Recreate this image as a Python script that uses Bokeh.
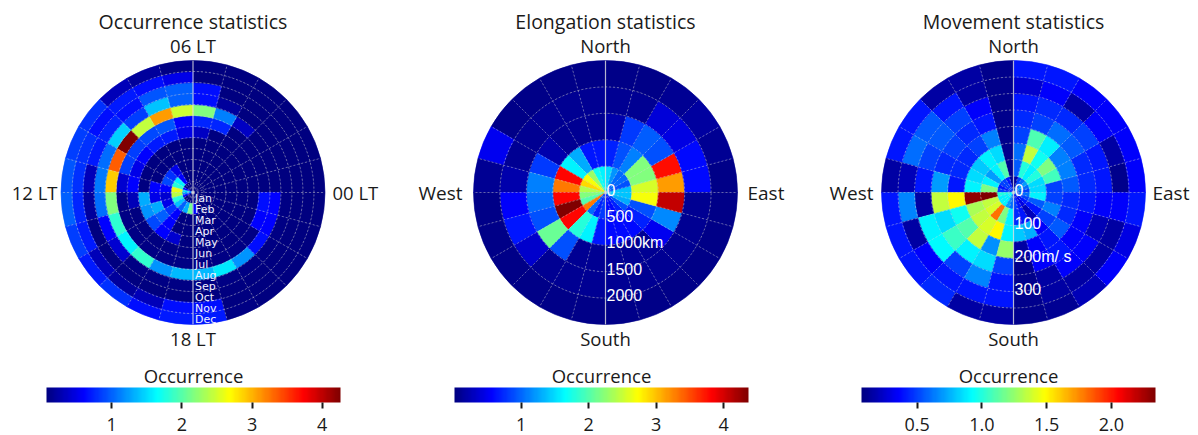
import numpy as np
from bokeh.plotting import figure
from bokeh.models import (Range1d, ColumnDataSource, LinearColorMapper, ColorBar,
                          FixedTicker, PrintfTickFormatter)
from bokeh.core.properties import value
from bokeh.embed import file_html
from bokeh.resources import INLINE

# ---------------- data ----------------
# Panel 1: occurrence by local time hour (0..23) for each month (inner Jan -> outer Dec)
month_labels = ["Jan", "Feb", "Mar", "Apr", "May", "Jun",
                "Jul", "Aug", "Sep", "Oct", "Nov", "Dec"]
occ_jan = [0, 0, 0, 0, 0, 0, 0, 0, 0, 0, 0.6, 1.5, 1.2, 0.6, 0, 0, 0, 0, 0, 0, 0, 0, 0, 0]
occ_feb = [0, 0, 0, 0, 0, 0, 0, 0, 0.6, 1.6, 1.8, 2.6, 2.4, 1.8, 1.4, 1.0, 1.3, 2.1, 0.6, 0, 0, 0, 0, 0]
occ_mar = [0, 0, 0, 0, 0, 0, 0, 0, 0.5, 0.8, 0.9, 0.6, 0.4, 0.5, 0.8, 0.6, 0, 0, 0, 0, 0, 0, 0, 0]
occ_apr = [0, 0, 0, 0, 0, 0, 0, 0, 0, 0, 0, 0.6, 0.5, 1.3, 1.0, 0.6, 0, 0, 0, 0, 0, 0, 0, 0]
occ_may = [0, 0, 0, 0, 0, 0, 0, 0, 0, 0, 0, 0, 1.3, 1.2, 0.9, 0.6, 0.4, 0, 0, 0, 0, 0, 0, 0]
occ_jun = [0, 0, 0, 0, 0, 0.35, 0.5, 0.7, 0.7, 0.6, 0.5, 0.6, 0.3, 0, 0, 0, 0, 0, 0, 0, 0, 0, 0, 0]
occ_jul = [0, 0, 0, 0, 0.75, 0.75, 0.6, 0.95, 0.9, 0.85, 0.85, 0.4, 0.1, 0.1, 0.1, 0.1, 0.1, 0.1, 0.1, 0.1, 0.1, 0.1, 0.6, 0.65]
occ_aug = [0, 0, 0, 0.35, 1.12, 2.17, 2.49, 3.09, 2.43, 4.26, 3.35, 2.89, 2.17, 1.83, 1.6, 1.85, 1.2, 1.35, 1.35, 1.55, 1.2, 0.65, 0.6, 0.6]
occ_sep = [0, 0, 0, 0, 0.2, 0.65, 1.0, 1.4, 0.85, 1.45, 1.05, 1.1, 1.05, 0.6, 0.4, 0.1, 0.1, 0.1, 0.1, 0.1, 0.1, 0.1, 0.1, 0.1]
occ_oct = [0, 0, 0, 0, 0, 0.65, 1.0, 0.95, 0.65, 0.75, 0.7, 0.3, 0.2, 0.05, 0, 0, 0, 0, 0, 0, 0, 0, 0, 0]
occ_nov = [0, 0, 0, 0, 0, 0, 0.5, 0.65, 0.7, 0.65, 0.8, 0.8, 0.75, 0.7, 0.3, 0.2, 0.3, 0.65, 0.65, 0, 0, 0, 0, 0]
occ_dec = [0, 0, 0, 0, 0, 0, 0.1, 0.2, 0.3, 0.8, 0.85, 0.95, 1.0, 0.85, 0.7, 0.8, 0.65, 0.7, 0.7, 0.1, 0, 0, 0, 0]

# Panel 2: elongation direction (15 deg sectors from East, counter-clockwise), rings of 500 km
elong_ring_labels = ["0", "500", "1000km", "1500", "2000"]
elong_0_500 = [1.4, 0.9, 1.0, 1.0, 1.2, 1.5, 1.6, 1.7, 2.3, 2.7, 2.9, 2.4, 2.2, 2.0, 3.3, 1.0, 0.7, 0.8, 0.6, 0.6, 0.7, 0.9, 1.3, 1.4]
elong_500_1000 = [2.55, 2.2, 2.2, 1.1, 0.9, 0.7, 0.65, 0.65, 1.3, 1.6, 3.8, 3.3, 3.8, 4.37, 3.8, 1.8, 1.6, 0.65, 0.6, 0.6, 0.6, 0.7, 0.9, 2.7]
elong_1000_1500 = [3.15, 3.76, 0.9, 0.95, 0.8, 0.2, 0.1, 0.1, 0.1, 0.2, 0.8, 1.1, 1.0, 0.9, 2.1, 0.9, 0.1, 0.1, 0.1, 0.1, 0.1, 0.5, 1.15, 4.07]
elong_1500_2000 = [0.6, 0.6, 0.45, 0.4, 0.1, 0.1, 0.1, 0.1, 0.1, 0.1, 0.1, 0.2, 0.55, 0.65, 0.35, 0.1, 0.1, 0.1, 0.1, 0.1, 0.1, 0.1, 0.1, 0.1]
elong_2000_2500 = [0.05, 0.1, 0.15, 0.1, 0.05, 0.05, 0.05, 0.05, 0.05, 0.05, 0.5, 0.1, 0.05, 0.05, 0.05, 0.05, 0.05, 0.05, 0.05, 0.05, 0.05, 0.05, 0.05, 0.05]

# Panel 3: movement direction (15 deg sectors from East), rings of 50 m/s
move_ring_labels = ["0", "100", "200m/ s", "300"]
move_0_50 = [0.5, 0.6, 0.7, 0.6, 0.5, 0.15, 0.1, 0.4, 0.5, 0.5, 0.4, 0.5, 1.0, 0.9, 0.9, 0.9, 0.7, 0.6, 0.5, 0.4, 0.3, 0.4, 0.5, 0.6]
move_50_100 = [0.85, 0.85, 1.0, 0.9, 1.0, 0.55, 0.1, 1.1, 0.9, 0.7, 0.9, 1.2, 2.34, 1.35, 1.4, 1.8, 1.2, 0.9, 0.45, 0.4, 0.2, 0.4, 0.55, 0.9]
move_100_150 = [0.5, 1.07, 1.2, 0.95, 1.35, 0.6, 0.1, 0.85, 0.9, 0.8, 0.85, 0.9, 2.3, 1.3, 1.35, 1.4, 1.5, 0.9, 0.8, 0.75, 0.35, 0.5, 0.64, 0.5]
move_150_200 = [0.55, 0.64, 0.64, 0.89, 1.09, 0.5, 0.1, 0.64, 0.5, 0.45, 0.45, 0.4, 1.5, 0.95, 1.1, 1.35, 0.68, 1.25, 0.15, 0.35, 0.4, 0.55, 0.45, 0.45]
move_200_250 = [0.45, 0.45, 0.55, 0.6, 0.5, 0.45, 0.1, 0.4, 0.45, 0.5, 0.45, 0.7, 1.35, 0.85, 1.05, 0.9, 0.85, 0.5, 0.1, 0.35, 0.4, 0.35, 0.35, 0.4]
move_250_300 = [0.4, 0.4, 0.5, 0.45, 0.45, 0.4, 0.1, 0.35, 0.5, 0.55, 0.5, 0.4, 0.15, 0.9, 0.92, 0.5, 0.65, 0.4, 0.1, 0.15, 0.35, 0.35, 0.2, 0.35]
move_300_350 = [0.1, 0.15, 0.35, 0.15, 0.35, 0.25, 0.1, 0.15, 0.4, 0.55, 0.6, 0.2, 0.65, 0.15, 0.35, 0.4, 0.4, 0.4, 0.1, 0.15, 0.15, 0.15, 0.15, 0.35]
move_350_400 = [0.35, 0.35, 0.35, 0.35, 0.4, 0.4, 0.1, 0.15, 0.15, 0.4, 0.4, 0.15, 0.4, 0.4, 0.4, 0.45, 0.15, 0.15, 0.1, 0.12, 0.2, 0.35, 0.3, 0.4]

# colour bar scales and ticks
colorbar_title = "Occurrence"
occ_low, occ_high, occ_ticks = 0.07, 4.26, [1, 2, 3, 4]
elong_low, elong_high, elong_ticks = 0.01, 4.37, [1, 2, 3, 4]
move_low, move_high, move_ticks = 0.07, 2.34, [0.5, 1.0, 1.5, 2.0]

# ---------------- helpers ----------------
def jet(n=256):
    cols = []
    for i in range(n):
        f = i / (n - 1)
        r = min(max(1.5 - abs(4 * f - 3), 0), 1)
        g = min(max(1.5 - abs(4 * f - 2), 0), 1)
        b = min(max(1.5 - abs(4 * f - 1), 0), 1)
        cols.append("#%02x%02x%02x" % (round(r * 255), round(g * 255), round(b * 255)))
    return cols

JET = jet()
FONT = "Open Sans"
INK = "#1a1a1a"
W, H = 1198, 435

p = figure(width=W, height=H, x_range=Range1d(0, W), y_range=Range1d(-H, 0),
           output_backend="svg", toolbar_location=None, min_border=0,
           x_axis_location=None, y_axis_location=None)
p.grid.visible = False
p.outline_line_color = None


def polar_panel(cx, cy, rings, ring_w, mapper):
    d = dict(x=[], y=[], r0=[], r1=[], a0=[], a1=[], v=[])
    for j, ring in enumerate(rings):
        n = len(ring)
        for k, val in enumerate(ring):
            d["x"].append(cx)
            d["y"].append(-cy)
            d["r0"].append(j * ring_w)
            d["r1"].append((j + 1) * ring_w)
            d["a0"].append(2 * np.pi * k / n)
            d["a1"].append(2 * np.pi * (k + 1) / n)
            d["v"].append(val)
    src = ColumnDataSource(d)
    p.annular_wedge(x="x", y="y", inner_radius="r0", outer_radius="r1",
                    start_angle="a0", end_angle="a1", source=src,
                    fill_color={"field": "v", "transform": mapper},
                    line_color={"field": "v", "transform": mapper}, line_width=0.6)
    nr = len(rings)
    R = nr * ring_w
    radii = [ring_w * j for j in range(1, nr)]
    p.arc(x=[cx] * len(radii), y=[-cy] * len(radii), radius=radii,
          start_angle=0, end_angle=2 * np.pi, line_color="#d0d0d0",
          line_alpha=0.5, line_width=1, line_dash="2 2")
    angs = [np.deg2rad(15 * k) for k in range(24) if k not in (6, 18)]
    p.segment(x0=[cx] * len(angs), y0=[-cy] * len(angs),
              x1=[cx + R * np.cos(a) for a in angs], y1=[-cy + R * np.sin(a) for a in angs],
              line_color="#d0d0d0", line_alpha=0.45, line_width=1, line_dash="2 2")
    p.segment(x0=[cx], y0=[-cy + R], x1=[cx], y1=[-cy - R],
              line_color="#e0e0e0", line_alpha=0.8, line_width=1.2)


def colorbar(mapper, ticks, fmt, left):
    cb = ColorBar(color_mapper=mapper, orientation="horizontal", width=294, height=15,
                  location=(left, 2), padding=0, margin=0,
                  ticker=FixedTicker(ticks=ticks), formatter=PrintfTickFormatter(format=fmt),
                  major_label_text_font=FONT, major_label_text_font_size="18px",
                  major_label_text_color=INK, label_standoff=9,
                  major_tick_out=6, major_tick_in=0, major_tick_line_color=INK,
                  major_tick_line_width=2, minor_tick_line_color=None,
                  bar_line_color=None, border_line_color=None, background_fill_alpha=0)
    p.add_layout(cb, "center")
    texts([left + 147], [375], [colorbar_title], "center", size="18.5px")


def texts(xs, ys, labels, align, size="18.5px", font=FONT, color=INK, baseline="middle"):
    p.text(x=xs, y=[-y for y in ys], text=labels, text_font=value(font), text_font_size=size,
           text_align=align, text_baseline=baseline, text_color=color)


cy = 192
TS = "19.5px"

# ---------------- panel 1 ----------------
occ_rows = [occ_jan, occ_feb, occ_mar, occ_apr, occ_may, occ_jun,
            occ_jul, occ_aug, occ_sep, occ_oct, occ_nov, occ_dec]
m1 = LinearColorMapper(palette=JET, low=occ_low, high=occ_high)
cx1 = 192.5
polar_panel(cx1, cy, occ_rows, 11, m1)
texts([cx1 + 2] * 12, [cy + 11 * (m + 0.5) for m in range(12)], month_labels, "left",
      size="11px", font="DejaVu Sans", color="#f0f0ff")
texts([cx1], [21], ["Occurrence statistics"], "center", size=TS)
texts([cx1, cx1], [45, 338], ["06 LT", "18 LT"], "center")
texts([57], [cy], ["12 LT"], "right")
texts([332], [cy], ["00 LT"], "left")
colorbar(m1, occ_ticks, "%d", 46)

# ---------------- panel 2 ----------------
elong_rows = [elong_0_500, elong_500_1000, elong_1000_1500, elong_1500_2000, elong_2000_2500]
m2 = LinearColorMapper(palette=JET, low=elong_low, high=elong_high)
cx2 = 605
polar_panel(cx2, cy, elong_rows, 26.4, m2)
texts([cx2 + 1] * 5, [cy + 26.4 * j - 3 for j in range(5)], elong_ring_labels, "left",
      size="16px", font="Liberation Sans", color="white", baseline="alphabetic")
texts([cx2], [21], ["Elongation statistics"], "center", size=TS)
texts([cx2, cx2], [45, 338], ["North", "South"], "center")
texts([462], [cy], ["West"], "right", size="19px")
texts([747], [cy], ["East"], "left", size="19px")
colorbar(m2, elong_ticks, "%d", 454)

# ---------------- panel 3 ----------------
move_rows = [move_0_50, move_50_100, move_100_150, move_150_200,
             move_200_250, move_250_300, move_300_350, move_350_400]
m3 = LinearColorMapper(palette=JET, low=move_low, high=move_high)
cx3 = 1013
polar_panel(cx3, cy, move_rows, 16.5, m3)
texts([cx3 + 1] * 4, [cy + 33 * j - 2.5 for j in range(4)], move_ring_labels, "left",
      size="16px", font="Liberation Sans", color="white", baseline="alphabetic")
texts([cx3], [21], ["Movement statistics"], "center", size=TS)
texts([cx3, cx3], [45, 338], ["North", "South"], "center")
texts([873], [cy], ["West"], "right", size="19px")
texts([1152], [cy], ["East"], "left", size="19px")
colorbar(m3, move_ticks, "%.1f", 861)

open("out.html", "w").write(file_html(p, INLINE))
